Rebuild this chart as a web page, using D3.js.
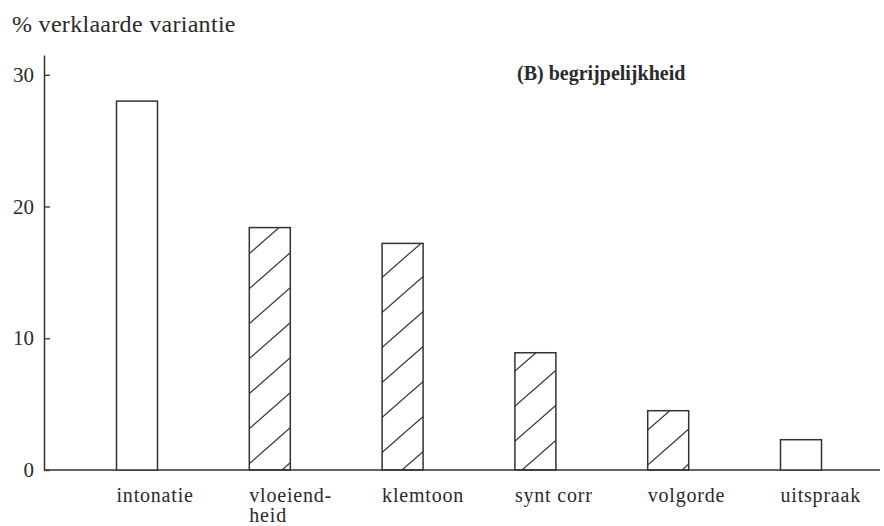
<!DOCTYPE html>
<html>
<head>
	<meta charset="utf-8">
	<title>verklaarde variantie - begrijpelijkheid</title>
	<script src="https://d3js.org/d3.v7.min.js"></script>
	<style>
		body { margin: 0; background: #fff; }
		text { font-family: "Liberation Serif", serif; fill: #2a2a2a; }
	</style>
</head>
<body>
	<div class="chart"></div>

	<script type="text/javascript">
		// data
		const categories = ['intonatie', 'vloeiend-\nheid', 'klemtoon', 'synt corr', 'volgorde', 'uitspraak']
		const values = [28.0, 18.4, 17.2, 8.9, 4.5, 2.3]
		const hatched = [false, true, true, true, true, false]
		const yTicks = [0, 10, 20, 30]

		const width = 884
		const height = 526
		const ink = '#333'

		const svg = d3.select('.chart').append('svg')
			.attr('width', width)
			.attr('height', height)

		// hatch pattern: lines from lower left to upper right
		svg.append('defs').append('pattern')
			.attr('id', 'hatch')
			.attr('patternUnits', 'userSpaceOnUse')
			.attr('width', 40)
			.attr('height', 35)
			.attr('x', 10)
			.attr('y', 8)
			.append('path')
			.attr('d', 'M-4,38.5L44,-3.5M-4,3.5L4,-3.5M36,38.5L44,31.5')
			.attr('stroke', ink)
			.attr('stroke-width', 1.3)
			.attr('fill', 'none')

		// scales
		const x = d3.scalePoint(categories, [137, 801])
		const barW = 41
		const y = d3.scaleLinear([0, 31.5], [470, 55])

		// y axis (ticks pointing inward)
		const yAxis = svg.append('g')
			.attr('transform', 'translate(44,0)')
			.call(d3.axisLeft(y).tickValues(yTicks).tickSizeInner(-6).tickSizeOuter(0).tickPadding(10))
		yAxis.select('.domain').attr('stroke', ink).attr('stroke-width', 1.5)
		yAxis.selectAll('.tick line').attr('stroke', ink).attr('stroke-width', 1.3)
		yAxis.selectAll('.tick text')
			.attr('font-size', 21)
			.attr('font-family', '"Liberation Serif", serif')
			.attr('fill', '#2a2a2a')

		// x baseline
		svg.append('line')
			.attr('x1', 44).attr('x2', 880)
			.attr('y1', y(0)).attr('y2', y(0))
			.attr('stroke', ink)
			.attr('stroke-width', 1.5)

		// bars
		const data = categories.map((c, i) => ({ name: c, value: values[i], hatched: hatched[i] }))

		svg.append('g')
			.selectAll('rect')
			.data(data)
			.join('rect')
			.attr('x', d => x(d.name) - barW / 2)
			.attr('y', d => y(d.value))
			.attr('width', barW)
			.attr('height', d => y(0) - y(d.value))
			.attr('fill', d => d.hatched ? 'url(#hatch)' : '#fff')
			.attr('stroke', ink)
			.attr('stroke-width', 1.5)

		// category labels, left aligned with bar edge
		svg.append('g')
			.selectAll('text')
			.data(data)
			.join('text')
			.attr('x', d => x(d.name) - barW / 2)
			.attr('y', 502)
			.attr('font-size', 20)
			.attr('letter-spacing', 0.8)
			.each(function (d) {
				const lines = d.name.split('\n')
				d3.select(this).selectAll('tspan')
					.data(lines)
					.join('tspan')
					.attr('x', x(d.name) - barW / 2)
					.attr('dy', (l, i) => i === 0 ? 0 : 20)
					.text(l => l)
			})

		// y title
		svg.append('text')
			.attr('x', 12)
			.attr('y', 32)
			.attr('font-size', 24)
			.attr('letter-spacing', 0.3)
			.text('% verklaarde variantie')

		// panel label
		svg.append('text')
			.attr('x', 517)
			.attr('y', 80)
			.attr('font-size', 20)
			.attr('font-weight', 'bold')
			.text('(B) begrijpelijkheid')
	</script>
</body>
</html>
